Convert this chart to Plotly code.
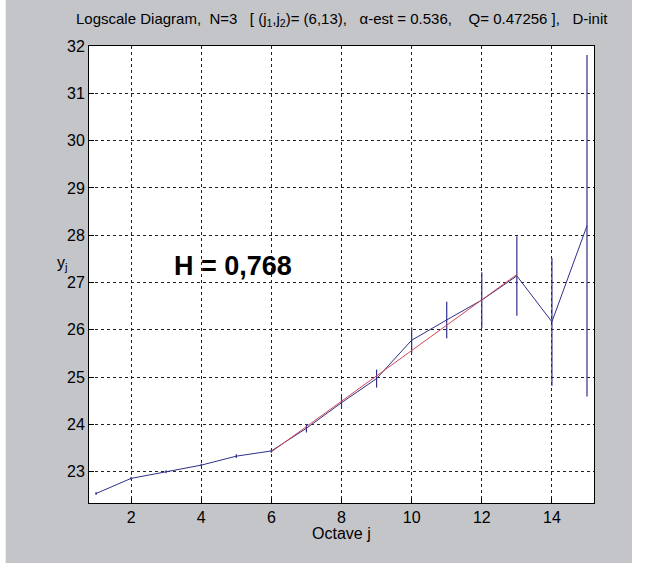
import plotly.graph_objects as go

# Octave index and log-scale values with confidence half-widths
octave_j = list(range(1, 16))
y_j = [22.54, 22.86, 23.00, 23.14, 23.33, 23.44, 23.92, 24.46, 24.97,
       25.78, 26.21, 26.63, 27.14, 26.17, 28.20]
ci_half = [0.03, 0.03, 0.03, 0.03, 0.04, 0.04, 0.09, 0.13, 0.19,
           0.27, 0.385, 0.59, 0.84, 1.35, 3.61]

# Regression line over the fitting range (j1, j2) = (6, 13)
fit_j = [6, 13]
fit_y = [23.42, 27.17]

x_ticks = [2, 4, 6, 8, 10, 12, 14]
y_ticks = [23, 24, 25, 26, 27, 28, 29, 30, 31, 32]

NB = "\u00a0"
title_text = (
    f"Logscale Diagram,{NB*2}N=3{NB*3}[ (j<sub>1</sub>,j<sub>2</sub>)= (6,13),"
    f"{NB*3}\u03b1-est = 0.536,{NB*4}Q= 0.47256 ],{NB*3}D-init"
)

navy = "#2f2f88"
font = "Liberation Sans, Arial, sans-serif"

fig = go.Figure()
fig.add_trace(go.Scatter(
    x=octave_j, y=y_j, mode="lines",
    line=dict(color=navy, width=1),
    error_y=dict(type="data", array=ci_half, visible=True,
                 color=navy, thickness=1.2, width=0),
    showlegend=False,
))
fig.add_trace(go.Scatter(
    x=fit_j, y=fit_y, mode="lines",
    line=dict(color="#d04858", width=1),
    showlegend=False,
))

fig.add_annotation(x=4.9, y=27.35, xref="x", yref="y", text="<b>H = 0,768</b>",
                   showarrow=False, font=dict(family=font, size=27, color="black"))
fig.add_annotation(x=0.5, y=1, xref="paper", yref="paper", yanchor="middle",
                   yshift=27, text=title_text, showarrow=False,
                   font=dict(family=font, size=15, color="black"))
fig.add_annotation(x=-0.038, y=27.4, xref="paper", yref="y", xanchor="right",
                   text="y<sub>j</sub>", showarrow=False,
                   font=dict(family=font, size=16, color="black"))
fig.add_annotation(x=0.5, y=0, xref="paper", yref="paper", yanchor="top",
                   yshift=-20, text="Octave j", showarrow=False,
                   font=dict(family=font, size=16, color="black"))

# light strips at the outer edges of the figure
for x0, x1 in [(-0.2, -0.165), (1.0753, 1.2)]:
    fig.add_shape(type="rect", xref="paper", yref="paper", x0=x0, x1=x1,
                  y0=-0.2, y1=1.2, fillcolor="white", line=dict(width=0),
                  layer="below")

axis_common = dict(
    showline=True, linecolor="black", linewidth=1, mirror=True,
    ticks="inside", ticklen=5, tickcolor="black",
    showgrid=True, gridcolor="#222222", gridwidth=1, griddash="dot",
    zeroline=False, tickfont=dict(family=font, size=16, color="black"),
)
fig.update_xaxes(range=[0.8, 15.2], tickvals=x_ticks, **axis_common)
fig.update_yaxes(range=[22.34, 32], tickvals=y_ticks, **axis_common)

fig.update_layout(
    width=645, height=563,
    margin=dict(l=89, r=51, t=46, b=60),
    paper_bgcolor="#c4c5c9", plot_bgcolor="white",
    font=dict(family=font, color="black"),
)

fig.write_html("out.html")
